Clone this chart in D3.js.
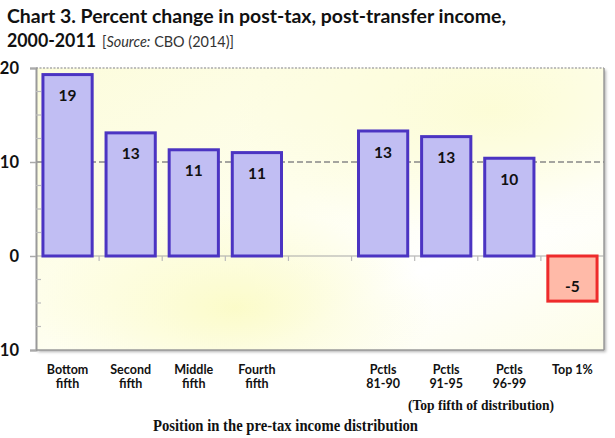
<!DOCTYPE html>
<html>
<head>
<meta charset="utf-8">
<script src="https://cdn.jsdelivr.net/npm/d3@7/dist/d3.min.js"></script>
<style>
  html, body { margin: 0; padding: 0; background: #fff; }
  svg { display: block; }
</style>
</head>
<body>
<svg id="chart" width="615" height="438"></svg>
<script>
// data
const categories = ["Bottom fifth", "Second fifth", "Middle fifth", "Fourth fifth", "",
  "Pctls 81-90", "Pctls 91-95", "Pctls 96-99", "Top 1%"];
const values = [19.3, 13.1, 11.3, 11.0, null, 13.3, 12.7, 10.4, -4.8];
const valueLabels = ["19", "13", "11", "11", "", "13", "13", "10", "-5"];
const yTicks = [20, 10, 0, -10];
const yMinorTicks = d3.range(-10, 20.01, 2.5);

const svg = d3.select("#chart");
const W = 615, H = 438;
const m = { left: 36, right: 11, top: 68, bottom: 88 };
const pw = W - m.left - m.right;
const ph = H - m.top - m.bottom;
const sans = "Lato, 'Open Sans', sans-serif";
const serif = "'Liberation Serif', 'Times New Roman', serif";

const x = d3.scaleBand().domain(d3.range(categories.length)).range([0, pw]).paddingInner(0.22).paddingOuter(0.11);
const y = d3.scaleLinear().domain([-10, 20]).range([ph, 0]);

const defs = svg.append("defs");
const bg = defs.append("linearGradient").attr("id", "bg")
  .attr("x1", "0%").attr("y1", "0%").attr("x2", "100%").attr("y2", "100%");
bg.append("stop").attr("offset", "0%").attr("stop-color", "#fcfcdc");
bg.append("stop").attr("offset", "45%").attr("stop-color", "#fefeec");
bg.append("stop").attr("offset", "70%").attr("stop-color", "#ffffff");
bg.append("stop").attr("offset", "100%").attr("stop-color", "#fdfde8");
const glow = defs.append("radialGradient").attr("id", "glow")
  .attr("cx", "35%").attr("cy", "85%").attr("r", "35%");
glow.append("stop").attr("offset", "0%").attr("stop-color", "#fbfbc4").attr("stop-opacity", 0.9);
glow.append("stop").attr("offset", "100%").attr("stop-color", "#fbfbc4").attr("stop-opacity", 0);
const glow2 = defs.append("radialGradient").attr("id", "glow2")
  .attr("cx", "80%").attr("cy", "15%").attr("r", "45%");
glow2.append("stop").attr("offset", "0%").attr("stop-color", "#fcfcd4").attr("stop-opacity", 0.9);
glow2.append("stop").attr("offset", "100%").attr("stop-color", "#fcfcd4").attr("stop-opacity", 0);
const shadow = defs.append("filter").attr("id", "shadow").attr("x", "-5%").attr("y", "-5%").attr("width", "115%").attr("height", "115%");
shadow.append("feDropShadow").attr("dx", 2).attr("dy", 2).attr("stdDeviation", 1.5).attr("flood-color", "#000").attr("flood-opacity", 0.3);

// title
svg.append("text").attr("x", 7).attr("y", 23).attr("font-family", sans)
  .attr("font-weight", "bold").attr("font-size", 19.5).attr("fill", "#111")
  .attr("textLength", 499).attr("lengthAdjust", "spacingAndGlyphs")
  .text("Chart 3. Percent change in post-tax, post-transfer income,");
svg.append("text").attr("x", 7).attr("y", 47).attr("font-family", sans)
  .attr("font-weight", "bold").attr("font-size", 18.5).attr("fill", "#111")
  .attr("textLength", 89).attr("lengthAdjust", "spacingAndGlyphs")
  .text("2000-2011");
const src = svg.append("text").attr("x", 102).attr("y", 47).attr("font-family", sans)
  .attr("font-size", 15).attr("fill", "#333")
  .attr("textLength", 132).attr("lengthAdjust", "spacingAndGlyphs");
src.append("tspan").text("[");
src.append("tspan").attr("font-style", "italic").text("Source:");
src.append("tspan").text(" CBO (2014)]");

const g = svg.append("g").attr("transform", `translate(${m.left},${m.top})`);

// plot area
g.append("rect").attr("width", pw).attr("height", ph).attr("fill", "url(#bg)")
  .attr("filter", "url(#shadow)");
g.append("rect").attr("width", pw).attr("height", ph).attr("fill", "url(#glow)");
g.append("rect").attr("width", pw).attr("height", ph).attr("fill", "url(#glow2)");
g.append("line").attr("x1", 0).attr("x2", pw).attr("y1", 0).attr("y2", 0)
  .attr("stroke", "#aaa").attr("stroke-width", 1.5).attr("stroke-dasharray", "2,1.5");
g.append("line").attr("x1", pw).attr("x2", pw).attr("y1", 0).attr("y2", ph)
  .attr("stroke", "#9a9a9a").attr("stroke-width", 1.5);
g.append("line").attr("x1", 0).attr("x2", pw).attr("y1", ph).attr("y2", ph)
  .attr("stroke", "#9a9a9a").attr("stroke-width", 1.5);

// gridline at 10
g.append("line").attr("x1", 0).attr("x2", pw).attr("y1", y(10)).attr("y2", y(10))
  .attr("stroke", "#888").attr("stroke-width", 1.5).attr("stroke-dasharray", "6,3");

// zero line with category separators
g.append("line").attr("x1", 0).attr("x2", pw).attr("y1", y(0)).attr("y2", y(0))
  .attr("stroke", "#a8a8a8").attr("stroke-width", 1.2);
const step = x.step();
g.selectAll(".sep").data(d3.range(1, categories.length)).join("line")
  .attr("x1", d => x(d) - step * x.paddingInner() / 2).attr("x2", d => x(d) - step * x.paddingInner() / 2)
  .attr("y1", y(0)).attr("y2", y(0) + 5)
  .attr("stroke", "#bbb").attr("stroke-width", 1.2);

// y axis
const yAxis = g.append("g").call(d3.axisLeft(y).tickValues(yTicks).tickSize(6).tickPadding(11)
  .tickFormat(d3.format("d")));
yAxis.select(".domain").attr("stroke", "#9a9a9a").attr("stroke-width", 2);
yAxis.selectAll(".tick line").attr("stroke", "#aaa").attr("stroke-width", 1.5);
yAxis.selectAll(".tick text").attr("font-family", sans)
  .attr("font-weight", "bold").attr("font-size", 16.5).attr("fill", "#111").attr("dy", "0.36em");
g.selectAll(".minor").data(yMinorTicks.filter(d => yTicks.indexOf(d) < 0)).join("line")
  .attr("x1", 0).attr("x2", 5).attr("y1", d => y(d)).attr("y2", d => y(d))
  .attr("stroke", "#bbb").attr("stroke-width", 1.2);

// bars
const rows = values.map((v, i) => ({ i, v, label: valueLabels[i] })).filter(d => d.v !== null);
g.selectAll(".bar").data(rows).join("rect")
  .attr("x", d => x(d.i))
  .attr("y", d => y(Math.max(0, d.v)))
  .attr("width", x.bandwidth())
  .attr("height", d => Math.abs(y(d.v) - y(0)))
  .attr("fill", d => d.v < 0 ? "#ffbaa8" : "#c1bef3")
  .attr("stroke", d => d.v < 0 ? "#ee2b2b" : "#4b34c2")
  .attr("stroke-width", 3);

g.selectAll(".vlab").data(rows).join("text")
  .attr("x", d => x(d.i) + x.bandwidth() / 2)
  .attr("y", d => d.v < 0 ? y(0) + 30 : y(d.v) + 21)
  .attr("dy", "0.36em")
  .attr("text-anchor", "middle")
  .attr("font-family", sans)
  .attr("font-weight", "bold").attr("font-size", 15.5).attr("fill", "#111")
  .text(d => d.label);

// category labels
const cl = g.selectAll(".cat").data(categories.map((c, i) => ({ c, i })).filter(d => d.c)).join("text")
  .attr("text-anchor", "middle")
  .attr("font-family", sans)
  .attr("font-weight", "bold").attr("font-size", 12.5).attr("fill", "#111");
cl.each(function (d) {
  const parts = d.c === "Top 1%" ? [d.c] : [d.c.split(" ")[0], d.c.split(" ").slice(1).join(" ")];
  const t = d3.select(this);
  parts.forEach((p, k) => {
    t.append("tspan").attr("x", x(d.i) + x.bandwidth() / 2).attr("y", ph + 24 + k * 14).text(p);
  });
});

svg.append("text").attr("x", 408).attr("y", 410)
  .attr("font-family", serif)
  .attr("font-weight", "bold").attr("font-size", 14.5).attr("fill", "#111")
  .attr("textLength", 146).attr("lengthAdjust", "spacingAndGlyphs")
  .text("(Top fifth of distribution)");
svg.append("text").attr("x", 153).attr("y", 431)
  .attr("font-family", serif)
  .attr("font-weight", "bold").attr("font-size", 16.5).attr("fill", "#111")
  .attr("textLength", 265).attr("lengthAdjust", "spacingAndGlyphs")
  .text("Position in the pre-tax income distribution");
</script>
</body>
</html>
